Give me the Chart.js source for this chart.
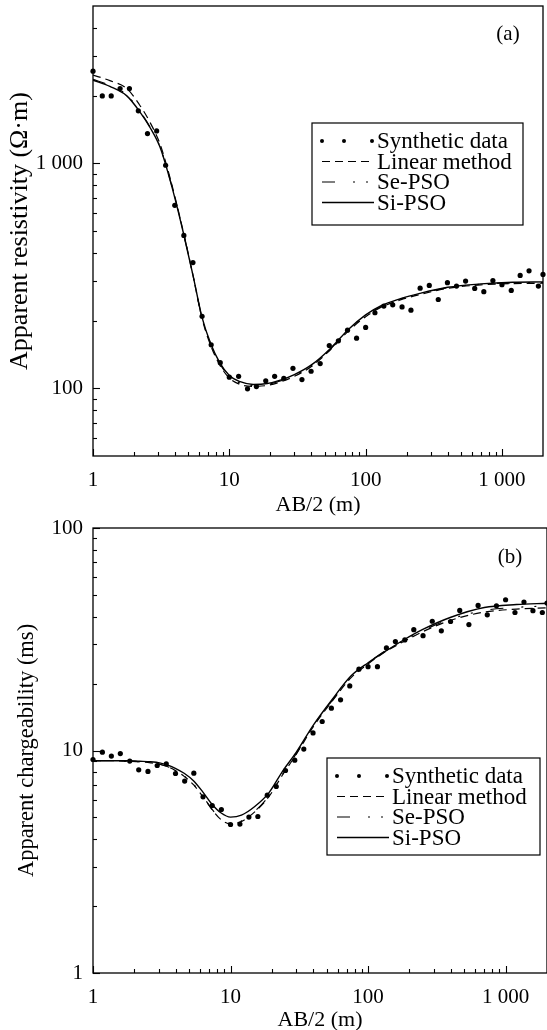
<!DOCTYPE html>
<html>
<head>
<meta charset="utf-8">
<script src="https://cdn.jsdelivr.net/npm/chart.js@4.4.0/dist/chart.umd.min.js"></script>
<style>
  html, body { margin: 0; padding: 0; background: #fff; overflow: hidden; }
  body { width: 547px; height: 1030px; position: relative; }
  canvas { position: absolute; left: 0; }
  #chartA { top: 0; }
  #chartB { top: 510px; }
</style>
</head>
<body>
<canvas id="chartA" width="547" height="520"></canvas>
<canvas id="chartB" width="551" height="523"></canvas>
<script>
// AB/2 positions of the synthetic soundings (m)
const abHalf = [1, 1.17, 1.36, 1.58, 1.85, 2.15, 2.51, 2.93, 3.41, 3.98, 4.64, 5.41, 6.31, 7.36, 8.58,
  10, 11.7, 13.6, 15.8, 18.5, 21.5, 25.1, 29.3, 34.1, 39.8, 46.4, 54.1, 63.1, 73.6, 85.8,
  100, 117, 136, 158, 185, 215, 251, 293, 341, 398, 464, 541, 631, 736, 858,
  1000, 1170, 1360, 1580, 1850, 2000];

// (a) apparent resistivity, synthetic data (ohm.m)
const rhoSynthetic = [2565, 1993, 1993, 2148, 2148, 1710, 1355, 1393, 980, 650, 478, 362, 209, 156, 130,
  112, 113, 99.4, 101.8, 107.9, 113, 110.8, 122.7, 109.3, 119, 128.8, 154.8, 162.5, 181.3, 167,
  186.3, 216.6, 231.8, 235, 230, 222.4, 278.5, 286.5, 248, 294.6, 284.5, 299.6, 277.7, 268.7, 301,
  288.4, 272.3, 317.4, 332.7, 284.5, 320.6];

// (b) apparent chargeability, synthetic data (ms)
const etaSynthetic = [9.11, 9.83, 9.44, 9.69, 8.96, 8.19, 8.05, 8.56, 8.71, 7.88, 7.29, 7.91, 6.19, 5.66, 5.43,
  4.65, 4.67, 5.02, 5.05, 6.3, 6.89, 8.13, 9.05, 10.15, 12.0, 13.5, 15.5, 16.9, 19.5, 23.2,
  23.8, 23.8, 28.9, 30.9, 31.4, 34.9, 32.8, 38.1, 34.5, 38.0, 42.6, 36.8, 44.9, 40.7, 44.7,
  47.6, 41.7, 46.5, 42.5, 41.7, 46];

// AB/2 positions of the fitted responses
const fitAB = [1, 1.33, 1.77, 2.18, 2.62, 3.1, 3.5, 4, 4.6, 5.4, 6.3, 7.3, 8.5, 10, 12,
  15, 19, 24, 30, 40, 55, 75, 100, 130, 180, 250, 400, 700, 1200, 2000];

const rhoLinear = [2466, 2330, 2148, 1830, 1520, 1220, 960, 705, 495, 320, 205, 155, 127, 111, 104,
  102, 103, 107, 113, 125, 148, 180, 208, 229, 247, 261, 278, 288, 292, 293];
const rhoSePSO = [2360, 2220, 2010, 1720, 1450, 1185, 940, 700, 492, 320, 206, 157, 129, 113, 105.5,
  103, 104, 108, 114, 126, 149, 182, 210, 231, 249, 263, 280, 290, 294, 295];
const rhoSiPSO = [2340, 2195, 1993, 1710, 1442, 1180, 935, 695, 491, 320, 207, 158, 130, 114, 107,
  104, 105, 109, 115, 127, 150, 183, 212, 233, 250, 264, 281, 291, 296, 297];

const etaLinear = [9.0, 9.0, 8.95, 8.9, 8.8, 8.65, 8.45, 8.1, 7.65, 7.0, 6.2, 5.45, 4.9, 4.68, 4.8,
  5.3, 6.2, 7.8, 9.6, 12.8, 16.7, 21.2, 24.5, 27.5, 30.8, 34.2, 38.5, 41.9, 43.2, 43.8];
const etaSePSO = [9.0, 9.0, 8.95, 8.9, 8.8, 8.65, 8.45, 8.12, 7.68, 7.03, 6.22, 5.47, 4.92, 4.7, 4.82,
  5.33, 6.25, 7.85, 9.65, 12.9, 16.8, 21.3, 24.7, 27.8, 31.1, 34.6, 39.0, 42.6, 44.0, 44.6];
const etaSiPSO = [9.0, 9.0, 9.0, 8.95, 8.9, 8.78, 8.6, 8.3, 7.9, 7.3, 6.5, 5.75, 5.25, 5.02, 5.12,
  5.6, 6.45, 8.1, 9.8, 13.0, 17.0, 21.6, 24.8, 27.6, 31.3, 35.0, 39.7, 43.9, 45.3, 45.9];

const seriesNames = ["Synthetic data", "Linear method", "Se-PSO", "Si-PSO"];

// axis ticks
const xTickValues = [1, 10, 100, 1000];
const xTickLabels = ["1", "10", "100", "1 000"];
const xMinorTicks = [2, 3, 4, 5, 6, 7, 8, 9, 20, 30, 40, 50, 60, 70, 80, 90, 200, 300, 400, 500, 600, 700, 800, 900];
const rhoTickValues = [100, 1000];
const rhoTickLabels = ["100", "1 000"];
const rhoMinorTicks = [60, 70, 80, 90, 200, 300, 400, 500, 600, 700, 800, 900, 2000, 3000, 4000];
const etaTickValues = [1, 10, 100];
const etaTickLabels = ["1", "10", "100"];
const etaMinorTicks = [2, 3, 4, 5, 6, 7, 8, 9, 20, 30, 40, 50, 60, 70, 80, 90];

const FONT = "'Liberation Serif', 'Times New Roman', serif";
const dashLinear = [8, 5];
const dashSe = [13, 18, 2, 11, 2, 18];

function toPoints(xs, ys) {
  return xs.map((x, i) => ({ x: x, y: ys[i] }));
}

// frame, inward ticks, boxed legend and panel tag
const panelDecor = {
  id: "panelDecor",
  afterDraw(chart) {
    const o = chart.options.plugins.panelDecor;
    const { ctx, chartArea: a } = chart;
    const xs = chart.scales.x, ys = chart.scales.y;
    ctx.save();
    ctx.strokeStyle = "#000";
    ctx.fillStyle = "#000";
    ctx.lineWidth = 1.3;
    ctx.strokeRect(a.left, a.top, a.right - a.left, a.bottom - a.top);

    ctx.lineWidth = 1.1;
    const tick = (x1, y1, x2, y2) => {
      ctx.beginPath(); ctx.moveTo(x1, y1); ctx.lineTo(x2, y2); ctx.stroke();
    };
    o.xMajor.forEach(v => { const p = Math.round(xs.getPixelForValue(v)) + 0.5; tick(p, a.bottom, p, a.bottom - 7); });
    o.xMinor.forEach(v => { const p = Math.round(xs.getPixelForValue(v)) + 0.5; tick(p, a.bottom, p, a.bottom - 4); });
    o.yMajor.forEach(v => { const p = Math.round(ys.getPixelForValue(v)) + 0.5; tick(a.left, p, a.left + 7, p); });
    o.yMinor.forEach(v => { const p = Math.round(ys.getPixelForValue(v)) + 0.5; tick(a.left, p, a.left + 4, p); });

    // panel tag
    ctx.font = "21px " + FONT;
    ctx.textAlign = "center";
    ctx.textBaseline = "middle";
    ctx.fillText(o.tag, o.tagX, o.tagY);

    // legend
    const [bx, by, bw, bh] = o.legendBox;
    ctx.lineWidth = 1.2;
    ctx.strokeRect(bx, by, bw, bh);
    ctx.font = "23px " + FONT;
    ctx.textAlign = "left";
    chart.data.datasets.forEach((ds, i) => {
      const ry = by + 18 + i * 20.5;
      const sx = bx + 10;
      if (i === 0) {
        [0, 22, 50].forEach(d => {
          ctx.beginPath(); ctx.arc(sx + d, ry, 2, 0, Math.PI * 2); ctx.fill();
        });
      } else {
        ctx.lineWidth = ds.borderWidth;
        ctx.setLineDash(ds.borderDash || []);
        tick(sx, ry, sx + 52, ry);
        ctx.setLineDash([]);
      }
      ctx.fillText(ds.label, bx + 65, ry + 1);
    });
    ctx.restore();
  }
};

function createPanel(id, p) {
  const ctx = document.getElementById(id).getContext("2d");
  return new Chart(ctx, {
    type: "line",
    data: {
      datasets: [
        {
          label: seriesNames[0],
          data: toPoints(abHalf, p.synthetic),
          showLine: false,
          pointRadius: 2.6,
          pointBackgroundColor: "#000",
          pointBorderWidth: 0,
          clip: false,
        },
        {
          label: seriesNames[1],
          data: toPoints(fitAB, p.linear),
          borderColor: "#000",
          borderWidth: 1.2,
          borderDash: dashLinear,
          pointRadius: 0,
          cubicInterpolationMode: "monotone",
        },
        {
          label: seriesNames[2],
          data: toPoints(fitAB, p.sePSO),
          borderColor: "#000",
          borderWidth: 1.2,
          borderDash: dashSe,
          pointRadius: 0,
          cubicInterpolationMode: "monotone",
        },
        {
          label: seriesNames[3],
          data: toPoints(fitAB, p.siPSO),
          borderColor: "#000",
          borderWidth: 1.4,
          pointRadius: 0,
          cubicInterpolationMode: "monotone",
        },
      ],
    },
    options: {
      responsive: false,
      animation: false,
      layout: { padding: p.padding },
      plugins: {
        legend: { display: false },
        tooltip: { enabled: false },
        panelDecor: p.decor,
      },
      scales: {
        x: {
          type: "logarithmic",
          min: 1,
          max: 2000,
          bounds: "data",
          afterBuildTicks: (s) => { s.ticks = xTickValues.map(v => ({ value: v })); },
          afterFit: (s) => { s.height = p.xHeight; s.paddingLeft = 0; s.paddingRight = 0; },
          ticks: {
            callback: (v, i) => xTickLabels[i],
            font: { family: FONT, size: 21 },
            color: "#000",
            padding: 12,
            maxRotation: 0,
            autoSkip: false,
          },
          grid: { display: false, drawTicks: false },
          border: { display: false },
          title: {
            display: true,
            text: "AB/2 (m)",
            font: { family: FONT, size: 22 },
            color: "#000",
            padding: { top: 0, bottom: p.xTitlePad },
          },
        },
        y: {
          type: "logarithmic",
          min: p.yMin,
          max: p.yMax,
          bounds: "data",
          afterBuildTicks: (s) => { s.ticks = p.yTicks.map(v => ({ value: v })); },
          afterFit: (s) => { s.width = 93; s.paddingTop = 0; s.paddingBottom = 0; },
          ticks: {
            callback: (v, i) => p.yLabels[i],
            font: { family: FONT, size: 21 },
            color: "#000",
            padding: 10,
            autoSkip: false,
          },
          grid: { display: false, drawTicks: false },
          border: { display: false },
          title: {
            display: true,
            text: p.yTitle,
            font: { family: FONT, size: p.yTitleSize },
            color: "#000",
            padding: { top: p.yTitlePad, bottom: 0 },
          },
        },
      },
    },
    plugins: [panelDecor],
  });
}

createPanel("chartA", {
  synthetic: rhoSynthetic, linear: rhoLinear, sePSO: rhoSePSO, siPSO: rhoSiPSO,
  yMin: 50, yMax: 5000, yTicks: rhoTickValues, yLabels: rhoTickLabels,
  yTitle: "Apparent resistivity (\u03A9\u00B7m)", yTitleSize: 26,
  padding: { top: 6, right: 4, left: 0, bottom: 0 },
  xHeight: 64, xTitlePad: 2, yTitlePad: 5,
  decor: {
    xMajor: xTickValues, xMinor: xMinorTicks, yMajor: rhoTickValues, yMinor: rhoMinorTicks,
    tag: "(a)", tagX: 508, tagY: 34, legendBox: [312, 123, 211, 102],
  },
});

// panel (b) is cut by the right edge of the figure: its canvas runs past the page
createPanel("chartB", {
  synthetic: etaSynthetic, linear: etaLinear, sePSO: etaSePSO, siPSO: etaSiPSO,
  yMin: 1, yMax: 100, yTicks: etaTickValues, yLabels: etaTickLabels,
  yTitle: "Apparent chargeability (ms)", yTitleSize: 22.5,
  padding: { top: 18, right: 3, left: 0, bottom: 0 },
  xHeight: 60, xTitlePad: 0, yTitlePad: 14,
  decor: {
    xMajor: xTickValues, xMinor: xMinorTicks, yMajor: etaTickValues, yMinor: etaMinorTicks,
    tag: "(b)", tagX: 510, tagY: 47, legendBox: [327, 248, 213, 97],
  },
});
</script>
</body>
</html>
